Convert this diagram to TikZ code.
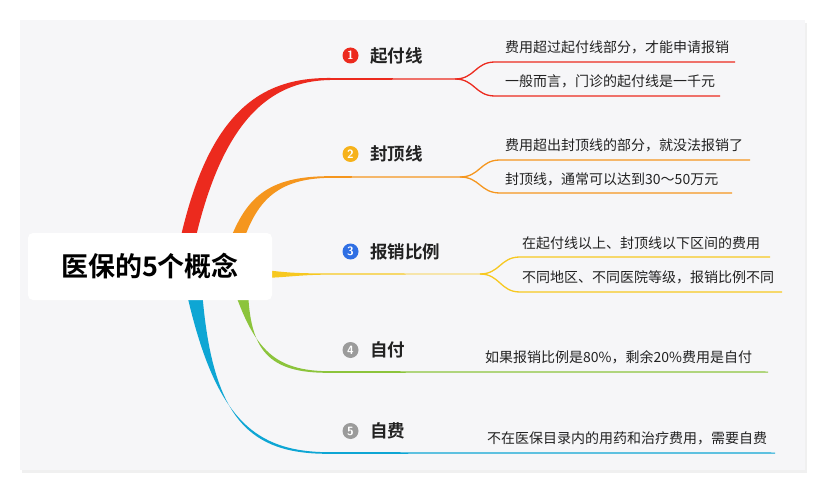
\documentclass[tikz,border=0pt]{standalone}
\usepackage{fontspec}
\setmainfont{Noto Sans CJK SC}
\newfontfamily\cjkb{Noto Sans CJK SC Bold}
\definecolor{cR}{HTML}{EC2A1E}
\definecolor{cO}{HTML}{F5961E}
\definecolor{cY}{HTML}{F7C820}
\definecolor{cG}{HTML}{8CC43C}
\definecolor{cB}{HTML}{0EA6D4}
\definecolor{iO}{HTML}{F6B21A}
\definecolor{iB}{HTML}{2F6FE4}
\definecolor{iG}{HTML}{9B9B9B}
\definecolor{bg}{HTML}{F6F6F8}
\definecolor{tx}{HTML}{222222}
\tikzset{
 topic/.style={anchor=west,font=\cjkb\fontsize{17.5}{20}\selectfont,text=tx,inner sep=0},
 sub/.style={anchor=west,font=\fontsize{14}{16}\selectfont,text=tx,inner sep=0},
 num/.style={circle,fill=#1,text=white,inner sep=0,minimum size=16pt,font=\bfseries\sffamily\fontsize{12}{12}\selectfont},
 subline/.style={line width=1.3pt},
}
\begin{document}
\begin{tikzpicture}[x=1pt,y=-1pt]
\useasboundingbox (0,0) rectangle (825,492);
\fill[black!6] (22,23) rectangle (807,473);
\fill[bg] (20,20) rectangle (805,470);
% red
\fill[cR] (179,245) .. controls (208,110) and (262,77.5) .. (330,78) -- (455,78.5) -- (455,79.5) -- (330,80) .. controls (270,81) and (222,120) .. (194,245) -- cycle;
% orange
\fill[cO] (228,245) .. controls (245,200) and (265,176) .. (330,176.2) -- (460,176.5) -- (460,177.5) -- (330,177.8) .. controls (276,178.5) and (256,202) .. (242,245) -- cycle;
% yellow
\fill[cY] (265,270) .. controls (290,273) and (300,273.4) .. (330,273.4) -- (480,273.6) -- (480,274.4) -- (330,274.6) .. controls (300,274.8) and (290,277) .. (265,278) -- cycle;
% green
\fill[cG] (234,290) .. controls (255,350) and (275,371.2) .. (330,371.2) -- (768,371.5) -- (768,372.5) -- (330,372.8) .. controls (268,373.5) and (250,350) .. (248,290) -- cycle;
% blue
\fill[cB] (186,290) .. controls (215,420) and (255,452.2) .. (330,452.2) -- (775,452.5) -- (775,453.5) -- (330,453.8) .. controls (250,454.5) and (212,420) .. (202,290) -- cycle;
% central
\node[fill=white,rounded corners=5pt,minimum width=244pt,minimum height=67pt,inner sep=0,font=\cjkb\fontsize{27}{30}\selectfont,text=black] (c) at (150,266.5) {医保的5个概念};
% sub branches
\coordinate (r0) at (455,79); \coordinate (o0) at (460,177); \coordinate (y0) at (480,274);
\coordinate (r1) at (735,62); \coordinate (r2) at (720,96);
\coordinate (o1) at (750,160); \coordinate (o2) at (732,193);
\coordinate (y1) at (770,257); \coordinate (y2) at (782,292);
\draw[subline,cR] (r0) .. controls (475,79) and (475,62) .. (495,62) -- (r1);
\draw[subline,cR] (r0) .. controls (475,79) and (475,96) .. (495,96) -- (r2);
\draw[subline,cO] (o0) .. controls (480,177) and (480,160) .. (500,160) -- (o1);
\draw[subline,cO] (o0) .. controls (480,177) and (480,193) .. (500,193) -- (o2);
\draw[subline,cY] (y0) .. controls (500,274) and (500,257) .. (520,257) -- (y1);
\draw[subline,cY] (y0) .. controls (500,274) and (500,292) .. (520,292) -- (y2);
% topics
\node[num=cR] (n1) at (350.5,55.5) {1}; \node[topic] (t1) at (370,55.5) {起付线};
\node[num=iO] (n2) at (350.5,154) {2}; \node[topic] (t2) at (370,154) {封顶线};
\node[num=iB] (n3) at (350.5,251.5) {3}; \node[topic] (t3) at (370,251.5) {报销比例};
\node[num=iG] (n4) at (350.5,350) {4}; \node[topic] (t4) at (370,350) {自付};
\node[num=iG] (n5) at (350.5,431) {5}; \node[topic] (t5) at (370,431) {自费};
% subtexts
\node[sub] (s11) at (505,47) {费用超过起付线部分，才能申请报销};
\node[sub] (s12) at (505,81) {一般而言，门诊的起付线是一千元};
\node[sub] (s21) at (505,145) {费用超出封顶线的部分，就没法报销了};
\node[sub] (s22) at (505,179) {封顶线，通常可以达到30～50万元};
\node[sub] (s31) at (522,243) {在起付线以上、封顶线以下区间的费用};
\node[sub] (s32) at (522,277) {不同地区、不同医院等级，报销比例不同};
\node[sub] (s4) at (485,357) {如果报销比例是80\%，剩余20\%费用是自付};
\node[sub] (s5) at (487,438.5) {不在医保目录内的用药和治疗费用，需要自费};
\end{tikzpicture}
\end{document}
